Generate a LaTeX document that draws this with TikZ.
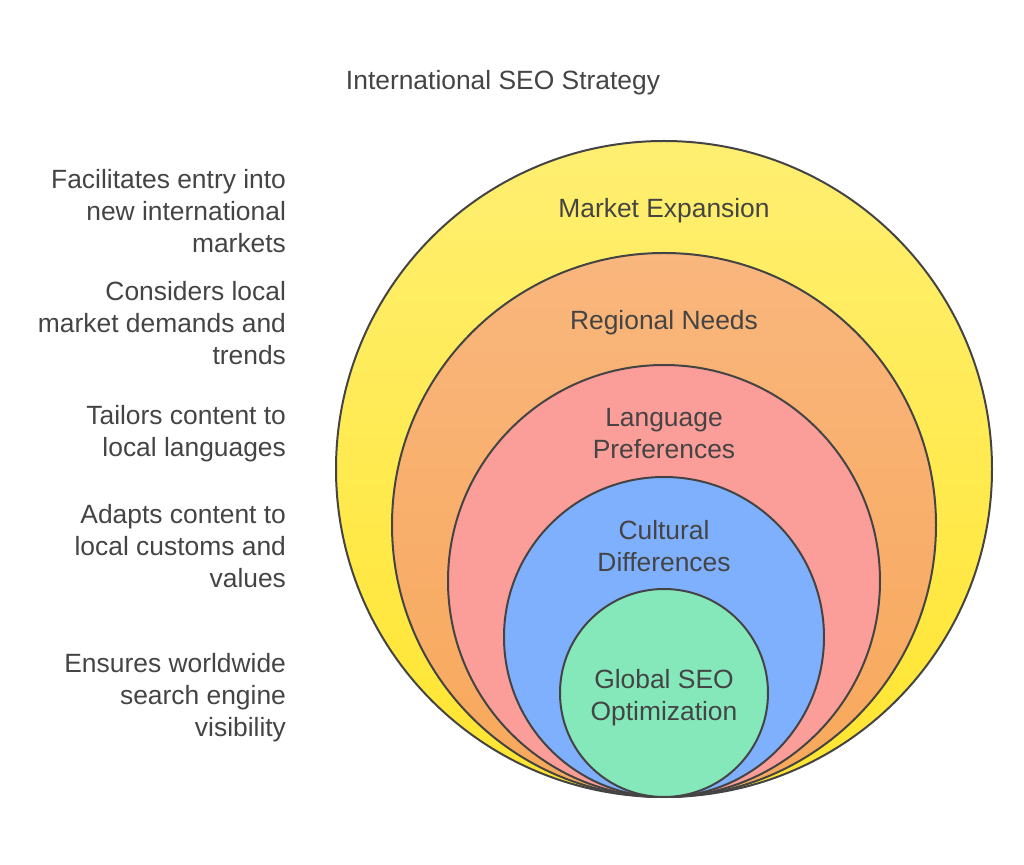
\documentclass[tikz,border=0pt]{standalone}
\usepackage{fontspec}
\setmainfont{Liberation Sans}
\definecolor{texto}{HTML}{444444}
\definecolor{amarilloA}{HTML}{FFEF72}
\definecolor{amarilloB}{HTML}{FFE52E}
\definecolor{naranjaA}{HTML}{F9B67D}
\definecolor{naranjaB}{HTML}{F8A85A}
\definecolor{rosa}{HTML}{FB9D98}
\definecolor{azul}{HTML}{7FB0FD}
\definecolor{verde}{HTML}{84E8BB}
\begin{document}
\begin{tikzpicture}[x=0.5pt, y=-0.5pt]
		% Definición de estilos
		\tikzstyle{anillo} = [circle, draw=texto, line width=1pt, inner sep=0pt]
		\tikzstyle{etiqueta} = [text=texto, font=\fontsize{13.2}{16}\selectfont, align=center]
		\tikzstyle{nota} = [text=texto, font=\fontsize{13.2}{16}\selectfont, align=right, anchor=east]

		\useasboundingbox (0,0) rectangle (1024,865);

		% Círculos
		\node [anillo, minimum size=328pt, top color=amarilloA, bottom color=amarilloB] (mercado) at (664,469) {};
		\node [anillo, minimum size=272pt, top color=naranjaA, bottom color=naranjaB] (regional) at (664,525) {};
		\node [anillo, minimum size=216pt, fill=rosa] (idioma) at (664,581) {};
		\node [anillo, minimum size=160pt, fill=azul] (cultura) at (664,637) {};
		\node [anillo, minimum size=104pt, fill=verde] (global) at (664,693) {};

		% Etiquetas
		\node [etiqueta] (titulo) at (503,83) {International SEO Strategy};
		\node [etiqueta] (tmercado) at (664,211) {Market Expansion};
		\node [etiqueta] (tregional) at (664,323) {Regional Needs};
		\node [etiqueta] (tidioma) at (664,434) {Language\\Preferences};
		\node [etiqueta] (tcultura) at (664,546) {Cultural\\Differences};
		\node [etiqueta] (tglobal) at (664,698) {Global SEO\\Optimization};

		% Descripciones
		\node [nota] (nmercado) at (293,211) {Facilitates entry into\\new international\\markets};
		\node [nota] (nregional) at (293,323) {Considers local\\market demands and\\trends};
		\node [nota] (nidioma) at (293,434) {Tailors content to\\local languages};
		\node [nota] (ncultura) at (293,546) {Adapts content to\\local customs and\\values};
		\node [nota] (nglobal) at (293,698) {Ensures worldwide\\search engine\\visibility};
	\end{tikzpicture}
\end{document}
